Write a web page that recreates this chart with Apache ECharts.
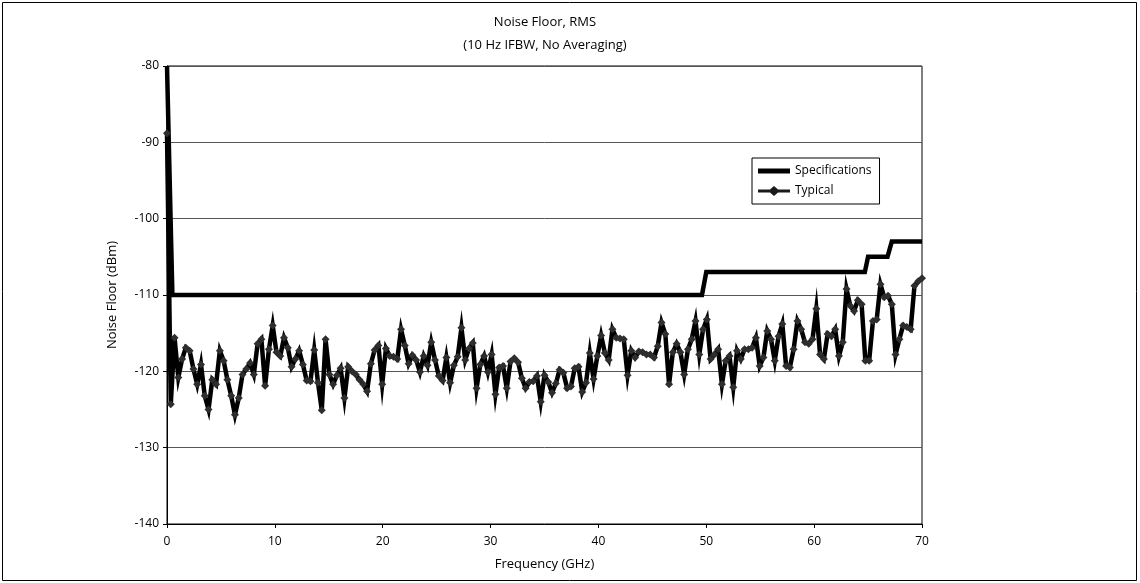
<!DOCTYPE html>
<html><head><meta charset="utf-8">
<script src="https://cdn.jsdelivr.net/npm/echarts@6/dist/echarts.min.js"></script>
<style>html,body{margin:0;padding:0;background:#fff}#c{width:1140px;height:583px}</style>
</head><body><div id="c"></div>
<script>
// Specification limit (GHz, dBm)
var specFreq = [0, 0.5, 49.6, 50.0, 64.7, 65.0, 66.8, 67.2, 70];
var specLevel = [-80, -110, -110, -107, -107, -105, -105, -103, -103];
// Typical noise floor, sampled every 0.35 GHz from 0 GHz
var typicalStartGHz = 0;
var typicalStepGHz = 0.35;
var typicalLevel = [
-88.8,-124.3,-115.6,-120.8,-118.4,-116.9,-117.3,-119.7,-121.7,-119.1,
-123.2,-125.0,-121.1,-121.7,-117.3,-118.6,-121.1,-123.2,-125.7,-123.5,
-120.4,-119.7,-118.9,-120.4,-116.4,-115.8,-121.9,-117.1,-114.0,-117.5,
-118.0,-115.6,-116.9,-119.4,-118.4,-117.3,-119.1,-121.2,-121.3,-117.2,
-121.5,-125.1,-115.8,-120.4,-121.7,-120.5,-119.6,-123.5,-119.4,-120.0,
-120.4,-121.1,-121.7,-122.6,-119.0,-117.2,-116.6,-121.7,-117.0,-118.0,
-118.1,-118.4,-114.5,-116.6,-119.0,-117.9,-118.5,-120.1,-118.0,-119.2,
-116.2,-118.5,-120.6,-121.2,-118.2,-121.5,-119.2,-118.1,-114.3,-118.5,
-117.0,-116.3,-122.2,-119.1,-118.0,-120.1,-117.8,-123.0,-119.5,-119.3,
-122.2,-118.7,-118.3,-118.8,-120.9,-122.2,-121.4,-121.3,-120.6,-124.0,
-120.5,-121.4,-122.8,-121.6,-119.8,-120.2,-122.2,-122.0,-119.6,-119.4,
-122.7,-121.5,-117.6,-121.0,-118.0,-115.3,-117.6,-118.5,-114.5,-115.6,
-115.7,-115.8,-120.5,-117.3,-118.2,-117.4,-117.5,-117.8,-117.8,-118.2,
-116.7,-113.6,-115.1,-121.7,-117.5,-116.4,-117.5,-120.4,-117.1,-115.8,
-113.4,-117.8,-114.5,-113.2,-118.4,-117.8,-117.1,-121.7,-118.6,-118.0,
-122.1,-117.3,-118.4,-117.1,-117.1,-116.9,-115.6,-119.3,-118.2,-114.7,
-115.8,-118.6,-115.4,-113.8,-119.3,-119.5,-117.1,-113.4,-114.5,-116.2,
-116.4,-115.8,-111.8,-117.8,-118.4,-115.1,-115.4,-114.5,-118.0,-116.2,
-109.2,-111.4,-112.1,-110.7,-111.2,-118.6,-118.6,-113.4,-113.2,-108.6,
-110.3,-110.1,-111.2,-117.8,-115.8,-114.0,-114.2,-114.5,-108.8,-108.2,
-107.8
];
var xTicks = [0, 10, 20, 30, 40, 50, 60, 70];
var yTicks = [-140, -130, -120, -110, -100, -90, -80];

var specData = specFreq.map(function (f, i) { return [f, specLevel[i]]; });
var typicalData = typicalLevel.map(function (v, i) { return [typicalStartGHz + i * typicalStepGHz, v]; });

var FONT = 'Open Sans';
var ICON_SPEC = 'path://M0,0 L32,0 L32,5 L0,5 Z';
var ICON_TYP = 'path://M0,3.5 L12,3.5 L16,0 L20,3.5 L32,3.5 L32,6.5 L20,6.5 L16,10 L12,6.5 L0,6.5 Z';
var chart = echarts.init(document.getElementById('c'), null, { renderer: 'canvas' });
chart.setOption({
  animation: false,
  backgroundColor: '#fff',
  textStyle: { fontFamily: FONT, color: '#000' },
  title: {
    text: 'Noise Floor, RMS\n(10 Hz IFBW, No Averaging)',
    left: 540, top: 6, textAlign: 'center',
    textStyle: { fontFamily: FONT, fontSize: 13, fontWeight: 'normal', color: '#000', lineHeight: 23 }
  },
  graphic: [{
    type: 'rect', shape: { x: 2.5, y: 2.5, width: 1134, height: 578 },
    style: { fill: 'none', stroke: '#000', lineWidth: 1 }, silent: true
  }],
  legend: {
    left: 752, top: 158, orient: 'vertical',
    borderColor: '#000', borderWidth: 1, padding: [7, 8, 7, 6],
    itemGap: 8, itemWidth: 32, itemHeight: 10, symbolKeepAspect: true,
    textStyle: { fontFamily: FONT, fontSize: 12, color: '#000' },
    data: [
      { name: 'Specifications', icon: ICON_SPEC, itemStyle: { color: '#000' } },
      { name: 'Typical', icon: ICON_TYP, itemStyle: { color: '#1a1a1a' } }
    ]
  },
  grid: { left: 167, right: 218, top: 66, bottom: 59, show: true, borderColor: '#000', borderWidth: 1, containLabel: false },
  xAxis: {
    type: 'value', min: xTicks[0], max: xTicks[xTicks.length - 1], interval: 10,
    name: 'Frequency (GHz)', nameLocation: 'middle', nameGap: 34,
    nameTextStyle: { fontFamily: FONT, fontSize: 13, color: '#000' },
    axisLine: { onZero: false, lineStyle: { color: '#000', width: 1 } },
    axisTick: { show: true, length: 4, inside: false, lineStyle: { color: '#000' } },
    axisLabel: { fontFamily: FONT, fontSize: 12, color: '#000', margin: 12 },
    splitLine: { show: false }
  },
  yAxis: {
    type: 'value', min: yTicks[0], max: yTicks[yTicks.length - 1], interval: 10,
    name: 'Noise Floor (dBm)', nameLocation: 'middle', nameGap: 48,
    nameTextStyle: { fontFamily: FONT, fontSize: 13, color: '#000' },
    axisLine: { show: true, lineStyle: { color: '#000', width: 1 } },
    axisTick: { show: true, length: 4, lineStyle: { color: '#000' } },
    axisLabel: { fontFamily: FONT, fontSize: 12, color: '#000', margin: 8 },
    splitLine: { show: true, lineStyle: { color: '#555', width: 1 } }
  },
  series: [
    {
      name: 'Specifications', type: 'line', data: specData,
      showSymbol: false, symbol: 'none',
      lineStyle: { color: '#000', width: 4.5, join: 'miter' },
      itemStyle: { color: '#000' }, z: 3
    },
    {
      name: 'Typical', type: 'line', data: typicalData,
      symbol: 'diamond', symbolSize: 8, showAllSymbol: true,
      lineStyle: { color: '#000', width: 4.5, join: 'miter', miterLimit: 10 },
      itemStyle: { color: '#2e2e2e' }, z: 4
    }
  ]
});
</script></body></html>
